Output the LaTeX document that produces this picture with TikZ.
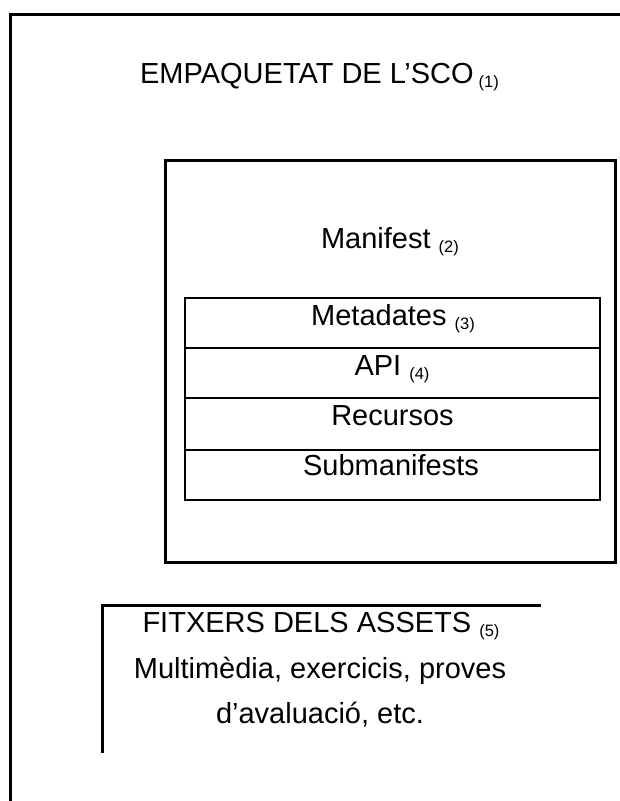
\documentclass[tikz,border=0pt]{standalone}
\usepackage{fontspec}
\setmainfont{Liberation Sans}
\newcommand\smallsub[1]{{\fontsize{16.5}{18}\selectfont\raisebox{-4.5pt}{#1}}}
\begin{document}
\begin{tikzpicture}[x=1pt,y=-1pt,
  frame/.style={line width=3pt},
  rowbox/.style={draw, line width=2.5pt, minimum width=415pt, inner sep=0pt, outer sep=0pt, anchor=north west},
  big/.style={font=\fontsize{29}{34}\selectfont, inner sep=0pt, anchor=base}]
\useasboundingbox (0,0) rectangle (620,801);
% outer package frame (open at right and bottom)
\coordinate (obl) at (10,812);
\coordinate (otl) at (10,14.5);
\coordinate (otr) at (625,14.5);
\draw[frame] (obl) -- (otl) -- (otr);
\node[big] (title) at (319.5,83) {EMPAQUETAT DE L’SCO\hspace{5pt}\smallsub{(1)}};
% manifest box
\node[draw, frame, minimum width=450pt, minimum height=402pt, inner sep=0pt, outer sep=0pt, anchor=north west] (manifest) at (165,160) {};
\node[big] (mtext) at (390,248) {Manifest \smallsub{(2)}};
% table rows
\node[rowbox, minimum height=50pt] (r1) at (185,298) {};
\node[rowbox, minimum height=50pt] (r2) at (185,348) {};
\node[rowbox, minimum height=52pt] (r3) at (185,398) {};
\node[rowbox, minimum height=50pt] (r4) at (185,450) {};
\node[big] (t1) at (393,325) {Metadates \smallsub{(3)}};
\node[big] (t2) at (392,375) {API \smallsub{(4)}};
\node[big] (t3) at (392.5,425) {Recursos};
\node[big] (t4) at (391,475) {Submanifests};
% assets box (open)
\coordinate (abl) at (102,753);
\coordinate (atl) at (102,605);
\coordinate (atr) at (541,605);
\draw[frame] (abl) -- (atl) -- (atr);
\node[big] (a1) at (321,632) {FITXERS DELS ASSETS \smallsub{(5)}};
\node[big] (a2) at (320,678) {Multimèdia, exercicis, proves};
\node[big] (a3) at (320,723) {d’avaluació, etc.};
\end{tikzpicture}
\end{document}
